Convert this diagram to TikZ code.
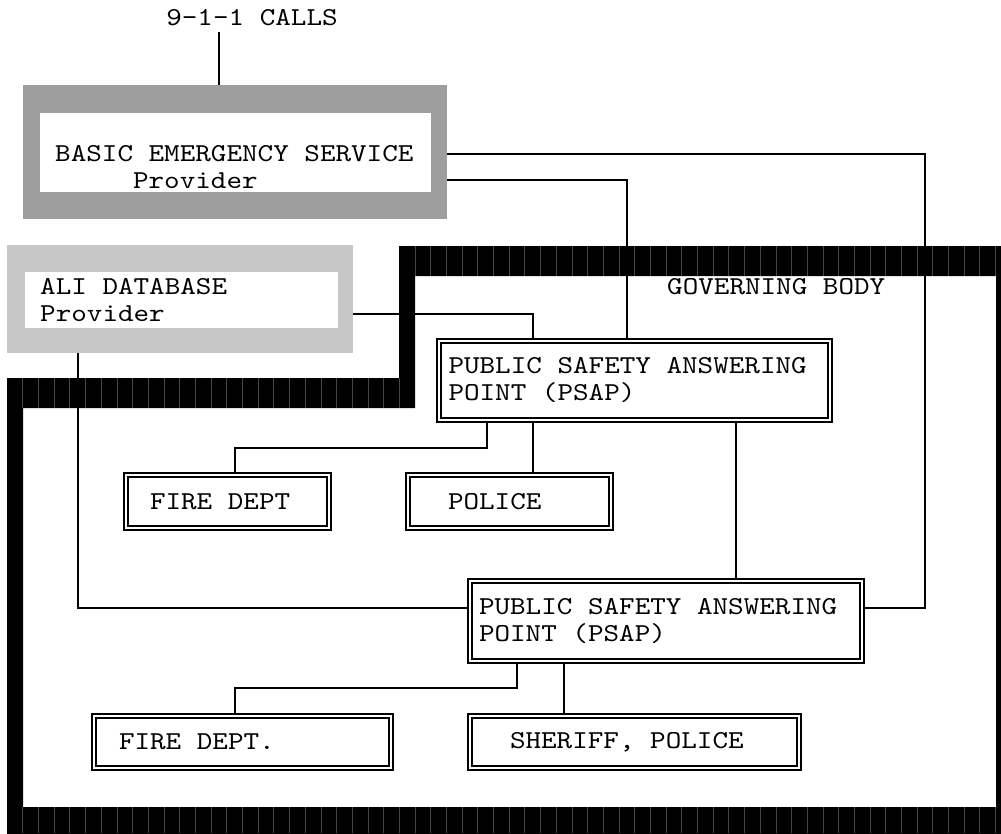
\documentclass[tikz,border=0pt]{standalone}
\usepackage{fontspec}
\setmonofont[FakeStretch=1.15]{lmmono10-regular.otf}
\definecolor{besfill}{gray}{0.62}
\definecolor{alifill}{gray}{0.78}
\definecolor{gridgray}{gray}{0.28}
\newcommand{\padl}[2]{\makebox[#1pt][l]{#2}}
\begin{document}
\begin{tikzpicture}[x=1pt,y=-1pt,
  every node/.style={font=\ttfamily\fontsize{25.8}{27}\selectfont, inner sep=0pt},
  conn/.style={line width=1.8pt},
  gridline/.style={draw=gridgray, line width=0.6pt},
  dbox/.style={draw, double, line width=1.5pt, double distance=2.4pt, align=left, fill=white},
]
\useasboundingbox (0,0) rectangle (1001,833);
% governing body frame
\fill[black, even odd rule] (399,246) -- (1010,246) -- (1010,840) -- (7,840) -- (7,378) -- (399,378) -- cycle
  (415,276) -- (996,276) -- (996,807) -- (23,807) -- (23,408) -- (415,408) -- cycle;
\foreach \k in {26,...,63} \draw[gridline] ({7+\k*15.69},246) -- ++(0,30);
\foreach \k in {1,...,25} \draw[gridline] ({7+\k*15.69},378) -- ++(0,30);
\foreach \k in {1,...,63} \draw[gridline] ({7+\k*15.69},807) -- ++(0,26);
\node (gov) [anchor=west] at (667,287) {GOVERNING BODY};
% 9-1-1 calls
\node (calls) at (252,18) {9-1-1 CALLS};
\coordinate (callsfoot) at (219,32);
% basic emergency service provider
\node (bes) [fill=besfill, minimum width=424pt, minimum height=134pt] at (235,152) {};
\fill[white] (40,113) rectangle (431,192);
\node (bestext) [anchor=west, align=left] at (55,167) {BASIC EMERGENCY SERVICE\\\phantom{BASIC}Provider};
% ALI database provider
\node (ali) [fill=alifill, minimum width=346pt, minimum height=108pt] at (180,299) {};
\fill[white] (25,272) rectangle (338,328);
\node (alitext) [anchor=west, align=left] at (40,300) {ALI DATABASE\\Provider};
% connectors
\draw[conn] (callsfoot) -- (bes.north -| callsfoot);
\draw[conn] (bes.east |- 0,154) -| (925,608) -- (862,608);
\draw[conn] (bes.east |- 0,180) -| (627,341);
\draw[conn] (ali.east |- 0,314) -| (533,341);
\draw[conn] (ali.south -| 78,0) |- (470,608);
\draw[conn] (487,420) -- (487,448) -| (235,475);
\draw[conn] (533,420) -- (533,475);
\draw[conn] (736,420) -- (736,581);
\draw[conn] (517,661) -- (517,688) -| (235,716);
\draw[conn] (564,661) -- (564,716);
% boxes
\node (psap1) [dbox, minimum width=391pt, minimum height=79pt] at (634.5,380.5) {\padl{372}{PUBLIC SAFETY ANSWERING}\\POINT (PSAP)};
\node (fire1) [dbox, minimum width=203pt, minimum height=53pt] at (227.5,501.5) {\padl{155}{FIRE DEPT}};
\node (police) [dbox, minimum width=203pt, minimum height=53pt] at (509.5,501.5) {\padl{123}{POLICE}};
\node (psap2) [dbox, minimum width=392pt, minimum height=80pt] at (666,621) {\padl{374}{PUBLIC SAFETY ANSWERING}\\POINT (PSAP)};
\node (fire2) [dbox, minimum width=297pt, minimum height=52pt] at (242.5,742) {\padl{247}{FIRE DEPT.}};
\node (sheriff) [dbox, minimum width=329pt, minimum height=52pt] at (634.5,742) {\padl{249}{SHERIFF, POLICE}};
\end{tikzpicture}
\end{document}
